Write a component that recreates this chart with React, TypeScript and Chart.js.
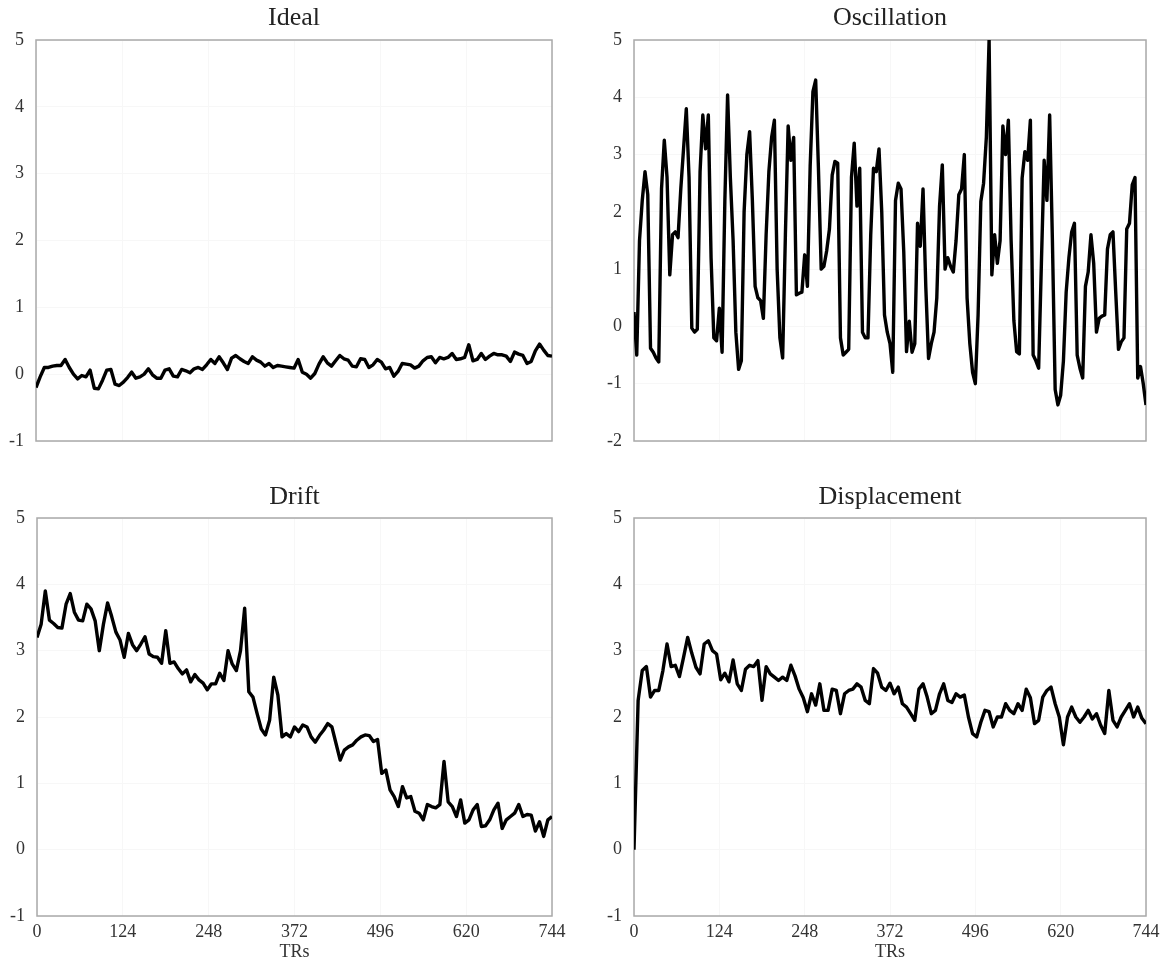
import React, { useEffect, useRef } from "react";
import { Chart, registerables } from "chart.js";

Chart.register(...registerables);

// ---------- data ----------
const X_TICKS = [0, 124, 248, 372, 496, 620, 744];
const Y_TICKS_STD = [-1, 0, 1, 2, 3, 4, 5];
const Y_TICKS_OSC = [-2, -1, 0, 1, 2, 3, 4, 5];

// sampling interval (TRs) of each series
const IDEAL_STEP = 6;
const OSC_STEP = 4;
const DRIFT_STEP = 6;
const DISP_STEP = 6;

const IDEAL = [
  -0.2, -0.04, 0.1, 0.1, 0.12, 0.13, 0.13, 0.22, 0.1, 0.0, -0.07, -0.02, -0.04, 0.06, -0.21, -0.22,
  -0.09, 0.06, 0.07, -0.15, -0.17, -0.12, -0.05, 0.03, -0.06, -0.04, 0.0, 0.08, -0.01, -0.06, -0.06, 0.06,
  0.08, -0.03, -0.04, 0.07, 0.05, 0.02, 0.08, 0.1, 0.07, 0.14, 0.22, 0.16, 0.26, 0.17, 0.07, 0.24,
  0.28, 0.23, 0.19, 0.16, 0.26, 0.21, 0.18, 0.12, 0.16, 0.1, 0.13, 0.12, 0.11, 0.1, 0.09, 0.22,
  0.03, 0.0, -0.06, 0.01, 0.15, 0.26, 0.17, 0.12, 0.2, 0.28, 0.23, 0.21, 0.12, 0.11, 0.23, 0.22,
  0.1, 0.14, 0.22, 0.18, 0.08, 0.1, -0.03, 0.04, 0.16, 0.15, 0.14, 0.09, 0.12, 0.2, 0.25, 0.26,
  0.17, 0.25, 0.23, 0.25, 0.31, 0.22, 0.23, 0.25, 0.44, 0.2, 0.22, 0.31, 0.22, 0.27, 0.31, 0.29,
  0.29, 0.27, 0.19, 0.33, 0.3, 0.28, 0.16, 0.19, 0.35, 0.45, 0.36, 0.28, 0.27,
];

const OSCILLATION = [
  0.25, -0.5, 1.5, 2.2, 2.7, 2.3, -0.38, -0.45, -0.55, -0.62, 2.4, 3.25, 2.6, 0.9, 1.6, 1.65,
  1.55, 2.4, 3.1, 3.8, 2.6, -0.03, -0.1, -0.05, 2.7, 3.69, 3.1, 3.69, 1.2, -0.2, -0.25, 0.32,
  -0.45, 2.18, 4.04, 2.6, 1.5, -0.1, -0.75, -0.6, 2.0, 3.0, 3.4, 2.2, 0.7, 0.5, 0.45, 0.14,
  1.6, 2.7, 3.3, 3.6, 1.0, -0.2, -0.55, 1.6, 3.5, 2.9, 3.3, 0.55, 0.58, 0.6, 1.25, 0.7,
  2.8, 4.1, 4.3, 2.76, 1.0, 1.05, 1.32, 1.7, 2.64, 2.88, 2.85, -0.2, -0.5, -0.45, -0.4, 2.6,
  3.2, 2.1, 2.76, -0.1, -0.2, -0.2, 1.6, 2.76, 2.7, 3.1, 2.0, 0.2, -0.1, -0.3, -0.8, 2.2,
  2.5, 2.4, 1.3, -0.44, 0.09, -0.45, -0.3, 1.8, 1.4, 2.4, 0.7, -0.56, -0.3, -0.1, 0.5, 2.1,
  2.82, 1.0, 1.2, 1.05, 0.95, 1.5, 2.3, 2.4, 3.0, 0.5, -0.3, -0.8, -1.0, 0.2, 2.18, 2.5,
  3.3, 5.0, 0.9, 1.6, 1.1, 1.5, 3.5, 3.0, 3.6, 1.5, 0.1, -0.44, -0.48, 2.59, 3.05, 2.9,
  3.6, -0.5, -0.6, -0.73, 1.1, 2.9, 2.2, 3.69, 1.5, -1.1, -1.37, -1.2, -0.6, 0.6, 1.2, 1.65,
  1.8, -0.5, -0.73, -0.9, 0.7, 0.95, 1.6, 1.1, -0.1, 0.14, 0.18, 0.2, 1.35, 1.6, 1.65, 0.6,
  -0.4, -0.27, -0.2, 1.7, 1.8, 2.47, 2.6, -0.9, -0.7, -1.0, -1.37,
];

const DRIFT = [
  3.2, 3.4, 3.9, 3.46, 3.41, 3.35, 3.34, 3.7, 3.86, 3.58, 3.46, 3.45, 3.7, 3.63, 3.45, 3.0,
  3.4, 3.72, 3.51, 3.28, 3.16, 2.9, 3.26, 3.09, 3.0, 3.1, 3.21, 2.95, 2.91, 2.9, 2.81, 3.3,
  2.81, 2.83, 2.73, 2.65, 2.71, 2.53, 2.64, 2.56, 2.51, 2.41, 2.5, 2.5, 2.66, 2.55, 3.0, 2.8,
  2.7, 3.0, 3.64, 2.38, 2.3, 2.05, 1.82, 1.73, 1.95, 2.6, 2.33, 1.7, 1.75, 1.7, 1.85, 1.78,
  1.88, 1.85, 1.7, 1.62, 1.72, 1.8, 1.9, 1.85, 1.6, 1.35, 1.5, 1.55, 1.58, 1.65, 1.7, 1.73,
  1.72, 1.63, 1.66, 1.15, 1.2, 0.9, 0.8, 0.65, 0.95, 0.78, 0.8, 0.58, 0.55, 0.45, 0.68, 0.65,
  0.63, 0.68, 1.33, 0.72, 0.65, 0.5, 0.75, 0.4, 0.45, 0.6, 0.68, 0.35, 0.36, 0.45, 0.6, 0.7,
  0.32, 0.45, 0.5, 0.55, 0.68, 0.5, 0.53, 0.52, 0.28, 0.42, 0.2, 0.45, 0.5,
];

const DISPLACEMENT = [
  0.0, 2.25, 2.7, 2.76, 2.3, 2.4, 2.4, 2.7, 3.1, 2.76, 2.78, 2.61, 2.9, 3.2, 2.96, 2.75,
  2.65, 3.1, 3.15, 3.0, 2.95, 2.56, 2.66, 2.53, 2.86, 2.5, 2.4, 2.72, 2.78, 2.76, 2.85, 2.25,
  2.76, 2.65, 2.6, 2.55, 2.6, 2.55, 2.78, 2.62, 2.42, 2.29, 2.08, 2.35, 2.18, 2.5, 2.1, 2.1,
  2.42, 2.4, 2.05, 2.35, 2.4, 2.42, 2.5, 2.45, 2.25, 2.2, 2.73, 2.66, 2.45, 2.4, 2.51, 2.35,
  2.45, 2.2, 2.15, 2.05, 1.95, 2.42, 2.5, 2.3, 2.05, 2.1, 2.35, 2.5, 2.25, 2.22, 2.35, 2.3,
  2.33, 2.0, 1.75, 1.7, 1.92, 2.1, 2.08, 1.85, 2.0, 2.0, 2.2, 2.1, 2.05, 2.2, 2.1, 2.42,
  2.29, 1.9, 1.95, 2.3, 2.4, 2.45, 2.2, 2.0, 1.58, 2.0, 2.15, 2.0, 1.92, 2.0, 2.1, 1.97,
  2.05, 1.88, 1.75, 2.4, 1.95, 1.85, 2.0, 2.1, 2.2, 2.0, 2.15, 1.98, 1.9,
];

// ---------- layout / style ----------
const FONT = '"Liberation Serif", "Times New Roman", serif';

type Panel = {
  title: string;
  values: number[];
  step: number;
  yTicks: number[];
  showX: boolean;
  left: number;
  top: number;
  width: number;
  height: number;
  yAxisW: number;
  padRight: number;
  titlePadTop: number;
  titlePadBottom: number;
  xAxisH: number;
};

const PANELS: Panel[] = [
  { title: "Ideal", values: IDEAL, step: IDEAL_STEP, yTicks: Y_TICKS_STD, showX: false,
    left: 0, top: 0, width: 584, height: 470, yAxisW: 36, padRight: 32, titlePadTop: 2.4, titlePadBottom: 6.4, xAxisH: 29 },
  { title: "Oscillation", values: OSCILLATION, step: OSC_STEP, yTicks: Y_TICKS_OSC, showX: false,
    left: 584, top: 0, width: 584, height: 470, yAxisW: 50, padRight: 22, titlePadTop: 2.4, titlePadBottom: 6.4, xAxisH: 29 },
  { title: "Drift", values: DRIFT, step: DRIFT_STEP, yTicks: Y_TICKS_STD, showX: true,
    left: 0, top: 470, width: 584, height: 494, yAxisW: 37, padRight: 32, titlePadTop: 11.4, titlePadBottom: 5.4, xAxisH: 48 },
  { title: "Displacement", values: DISPLACEMENT, step: DISP_STEP, yTicks: Y_TICKS_STD, showX: true,
    left: 584, top: 470, width: 584, height: 494, yAxisW: 50, padRight: 22, titlePadTop: 11.4, titlePadBottom: 5.4, xAxisH: 48 },
];

const framePlugin = {
  id: "frame",
  beforeDatasetsDraw(chart: any) {
    const { ctx, chartArea: a } = chart;
    ctx.save();
    ctx.strokeStyle = "#a9a9a9";
    ctx.lineWidth = 1.5;
    ctx.strokeRect(a.left, a.top, a.right - a.left, a.bottom - a.top);
    ctx.restore();
  },
};

function makeChart(canvas: HTMLCanvasElement, p: Panel) {
  const yMin = p.yTicks[0];
  const yMax = p.yTicks[p.yTicks.length - 1];
  return new Chart(canvas, {
    type: "line",
    data: {
      datasets: [
        {
          data: p.values.map((v, i) => ({ x: i * p.step, y: v })),
          borderColor: "#000",
          borderWidth: 3.4,
          pointRadius: 0,
          tension: 0,
          borderJoinStyle: "round",
          fill: false,
        },
      ],
    },
    options: {
      responsive: false,
      animation: false,
      devicePixelRatio: 1,
      layout: { padding: { left: 0, right: p.padRight, top: 0, bottom: 0 } },
      plugins: {
        legend: { display: false },
        tooltip: { enabled: false },
        title: {
          display: true,
          text: p.title,
          fullSize: false,
          color: "#222",
          font: { family: FONT, size: 26, weight: "normal", lineHeight: 1.2 },
          padding: { top: p.titlePadTop, bottom: p.titlePadBottom },
        },
      },
      scales: {
        x: {
          type: "linear",
          min: 0,
          max: 744,
          offset: false,
          afterBuildTicks: (s: any) => {
            s.ticks = X_TICKS.map((v) => ({ value: v }));
          },
          afterFit: (s: any) => {
            s.height = p.xAxisH;
          },
          grid: { color: "#f7f7f7", drawTicks: false },
          border: { display: false },
          ticks: {
            display: p.showX,
            padding: 5,
            color: "#333",
            maxRotation: 0,
            autoSkip: false,
            font: { family: FONT, size: 18 },
          },
          title: {
            display: p.showX,
            text: "TRs",
            color: "#333",
            font: { family: FONT, size: 18 },
            padding: { top: 0, bottom: 1 },
          },
        },
        y: {
          type: "linear",
          min: yMin,
          max: yMax,
          afterBuildTicks: (s: any) => {
            s.ticks = p.yTicks.map((v) => ({ value: v }));
          },
          afterFit: (s: any) => {
            s.width = p.yAxisW;
          },
          grid: { color: "#f7f7f7", drawTicks: false },
          border: { display: false },
          ticks: {
            padding: 12,
            color: "#333",
            font: { family: FONT, size: 18 },
          },
        },
      },
    },
    plugins: [framePlugin],
  } as any);
}

export default function App() {
  const refs = [
    useRef<HTMLCanvasElement>(null),
    useRef<HTMLCanvasElement>(null),
    useRef<HTMLCanvasElement>(null),
    useRef<HTMLCanvasElement>(null),
  ];

  useEffect(() => {
    const charts = PANELS.map((p, i) => makeChart(refs[i].current as HTMLCanvasElement, p));
    return () => charts.forEach((c) => c.destroy());
  }, []);

  return (
    <div
      style={{
        position: "absolute",
        left: 0,
        top: 0,
        width: 1168,
        height: 964,
        background: "#fff",
        overflow: "hidden",
      }}
    >
      {PANELS.map((p, i) => (
        <canvas
          key={p.title}
          ref={refs[i]}
          width={p.width}
          height={p.height}
          style={{ position: "absolute", left: p.left, top: p.top, width: p.width, height: p.height }}
        />
      ))}
    </div>
  );
}
